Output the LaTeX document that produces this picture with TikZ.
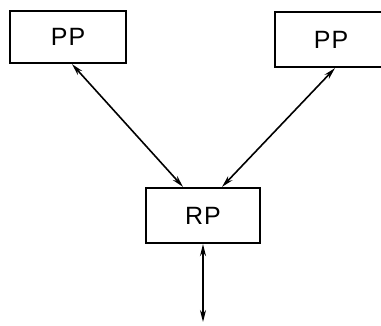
\documentclass[tikz,border=0pt]{standalone}
\usepackage{fontspec}
\setmainfont{Liberation Sans}[LetterSpace=4]
\usetikzlibrary{arrows.meta}
\begin{document}
\begin{tikzpicture}[x=1pt,y=1pt,
  box/.style={draw, line width=2.2pt, minimum width=#1, minimum height=54pt, inner sep=0pt, font=\fontsize{25}{25}\selectfont},
  link/.style={line width=1.6pt, {Stealth[length=12pt,width=6pt]}-{Stealth[length=12pt,width=6pt]}}
]
\useasboundingbox (0,0) rectangle (381,325);
\node[box=116pt, minimum height=52pt] (pl) at (68,288) {PP};
\node[box=112pt, minimum height=55pt] (pr) at (331,285.5) {PP};
\node[box=114pt, minimum height=55pt] (rp) at (203,109.5) {RP};
\coordinate (out) at (203,3);
\draw[link] ([xshift=4pt]pl.south) -- ([xshift=-20pt]rp.north);
\draw[link] ([xshift=4pt]pr.south) -- ([xshift=19pt]rp.north);
\draw[link] (rp.south) -- (out);
\end{tikzpicture}
\end{document}
